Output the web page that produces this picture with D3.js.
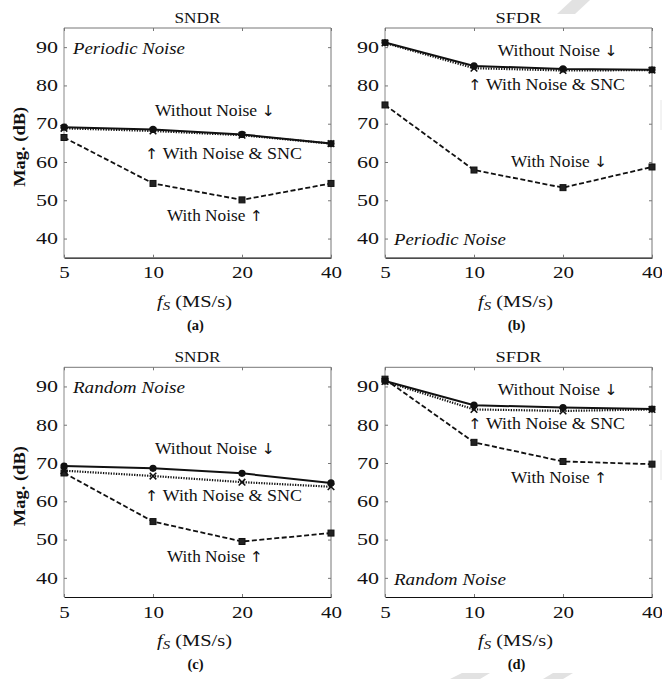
<!DOCTYPE html>
<html><head><meta charset="utf-8">
<script src="https://cdn.jsdelivr.net/npm/d3@7"></script>
<style>body{margin:0;background:#fff;} svg{display:block;}</style>
</head><body>
<svg id="c" width="662" height="679"></svg>
<script>
// ---------- data ----------
const fs = [5, 10, 20, 40];
const xTicks = [5, 10, 20, 40];
const yTicks = [40, 50, 60, 70, 80, 90];
const panelTitles = ["SNDR", "SFDR", "SNDR", "SFDR"];
const panelLetters = ["(a)", "(b)", "(c)", "(d)"];
const noiseTypes = ["Periodic Noise", "Periodic Noise", "Random Noise", "Random Noise"];

// (a) periodic SNDR
const aWithout = [69.1, 68.5, 67.2, 64.8];
const aSNC     = [68.8, 68.1, 67.0, 64.8];
const aNoise   = [66.4, 54.4, 50.1, 54.4];
// (b) periodic SFDR
const bWithout = [91.2, 85.1, 84.3, 84.1];
const bSNC     = [91.1, 84.5, 83.9, 84.0];
const bNoise   = [74.9, 57.9, 53.3, 58.7];
// (c) random SNDR
const cWithout = [69.2, 68.6, 67.3, 64.8];
const cSNC     = [68.0, 66.6, 65.0, 63.8];
const cNoise   = [67.4, 54.7, 49.5, 51.7];
// (d) random SFDR
const dWithout = [91.4, 85.1, 84.5, 84.1];
const dSNC     = [91.3, 84.0, 83.6, 84.0];
const dNoise   = [91.9, 75.4, 70.4, 69.7];

// annotation labels: [before-arrow text, arrow ("up"/"down"), after-arrow text, fs pos, dB pos, width]
const aLabels = [["Without Noise ", "down", "", 16.2, 73.6, 120], ["", "up", " With Noise & SNC", 17.3, 62.4, 157], ["With Noise ", "up", "", 16.2, 46.0, 96]];
const bLabels = [["Without Noise ", "down", "", 19.2, 89.3, 120], ["", "up", " With Noise & SNC", 17.6, 80.4, 157], ["With Noise ", "down", "", 19.4, 60.3, 96]];
const cLabels = [["Without Noise ", "down", "", 16.2, 73.9, 120], ["", "up", " With Noise & SNC", 17.3, 61.6, 157], ["With Noise ", "up", "", 16.2, 45.6, 96]];
const dLabels = [["Without Noise ", "down", "", 19.2, 89.3, 120], ["", "up", " With Noise & SNC", 17.6, 80.4, 157], ["With Noise ", "up", "", 19.4, 66.3, 96]];
// noise-type label position [fs, dB]
const noiseLabelPos = [[5.36, 89.8], [5.36, 39.7], [5.36, 89.8], [5.36, 39.6]];

const panels = [
  {without: aWithout, snc: aSNC, noise: aNoise, labels: aLabels},
  {without: bWithout, snc: bSNC, noise: bNoise, labels: bLabels},
  {without: cWithout, snc: cSNC, noise: cNoise, labels: cLabels},
  {without: dWithout, snc: dSNC, noise: dNoise, labels: dLabels}
];

// ---------- layout ----------
const svg = d3.select("#c");
const FONT = "'Liberation Serif', 'Times New Roman', serif";
const ARROW_FONT = "'DejaVu Sans', 'DejaVu Serif', sans-serif";
const ARROWS = {up: "\u2191\uFE0E", down: "\u2193\uFE0E"};
const origins = [[64, 28], [385, 28], [64, 367.3], [385, 367.3]];
const W = 267, H = 229.7;

// faint watermark-like decorations
const deco = svg.append("g").attr("fill", "#e2e2e2");
deco.append("path").attr("d", "M572,0 L590,0 L575,14 L557,14 Z");
deco.append("path").attr("d", "M450,679 L462,673 L490,673 L480,679 Z");
deco.append("path").attr("d", "M543,679 L553,673 L573,673 L563,679 Z");
svg.append("line").attr("x1", 661).attr("x2", 661).attr("y1", 100).attr("y2", 130).attr("stroke", "#e6e6e6");
svg.append("line").attr("x1", 661).attr("x2", 661).attr("y1", 450).attr("y2", 480).attr("stroke", "#e6e6e6");

panels.forEach((p, i) => {
  const [ox, oy] = origins[i];
  const g = svg.append("g").attr("transform", `translate(${ox},${oy})`);
  const x = d3.scaleLog().base(2).domain([5, 40]).range([0, W]);
  const y = d3.scaleLinear().domain([35, 95]).range([H, 0]);

  // box frame
  g.append("line").attr("x1", 0).attr("x2", W).attr("y1", 0).attr("y2", 0).attr("stroke", "#777");
  g.append("line").attr("x1", 0).attr("x2", 0).attr("y1", 0).attr("y2", H).attr("stroke", "#888");
  g.append("line").attr("x1", W).attr("x2", W).attr("y1", 0).attr("y2", H).attr("stroke", "#777");

  // axes (ticks inward)
  const xa = g.append("g").attr("transform", `translate(0,${H})`)
    .call(d3.axisBottom(x).tickValues(xTicks).tickFormat(d3.format("d")).tickSizeInner(-3).tickSizeOuter(0).tickPadding(9));
  xa.select(".domain").attr("stroke", "#111").attr("stroke-width", 1.2);
  xa.selectAll(".tick line").attr("stroke", "#777");
  xa.selectAll("text").attr("font-family", FONT).attr("font-size", 16.5).attr("fill", "#111")
    .attr("textLength", d => String(d).length * 10.5).attr("lengthAdjust", "spacingAndGlyphs");
  g.append("g").call(d3.axisTop(x).tickValues(xTicks).tickFormat("").tickSizeInner(-3).tickSizeOuter(0))
    .call(s => { s.select(".domain").remove(); s.selectAll("line").attr("stroke", "#777"); });

  const ya = g.append("g")
    .call(d3.axisLeft(y).tickValues(yTicks).tickSizeInner(-3).tickSizeOuter(0).tickPadding(6));
  ya.select(".domain").remove();
  ya.selectAll(".tick line").attr("stroke", "#777");
  ya.selectAll("text").attr("font-family", FONT).attr("font-size", 16.5).attr("fill", "#111")
    .attr("textLength", 22).attr("lengthAdjust", "spacingAndGlyphs");
  g.append("g").attr("transform", `translate(${W},0)`)
    .call(d3.axisRight(y).tickValues(yTicks).tickFormat("").tickSizeInner(-3).tickSizeOuter(0))
    .call(s => { s.select(".domain").remove(); s.selectAll("line").attr("stroke", "#777"); });

  // title
  g.append("text").attr("x", W / 2).attr("y", -5).attr("text-anchor", "middle")
    .attr("font-family", FONT).attr("font-size", 15).attr("fill", "#111")
    .attr("textLength", 46).attr("lengthAdjust", "spacingAndGlyphs").text(panelTitles[i]);

  // x label
  const xl = g.append("text").attr("x", W / 2 - 3).attr("y", H + 49).attr("text-anchor", "middle")
    .attr("font-family", FONT).attr("font-size", 16.5).attr("fill", "#111")
    .attr("textLength", 75).attr("lengthAdjust", "spacingAndGlyphs");
  xl.append("tspan").attr("font-style", "italic").text("f");
  xl.append("tspan").attr("font-style", "italic").attr("font-size", 12).attr("dy", 3).text("S");
  xl.append("tspan").attr("dy", -3).text(" (MS/s)");

  // panel letter
  g.append("text").attr("x", W / 2 - 2).attr("y", H + 72).attr("text-anchor", "middle")
    .attr("font-family", FONT).attr("font-weight", "bold").attr("font-size", 14.5).attr("fill", "#111")
    .text(panelLetters[i]);

  // y label (left column only)
  if (i % 2 === 0) {
    g.append("text").attr("transform", `translate(-39,${H / 2 + 4}) rotate(-90)`)
      .attr("text-anchor", "middle").attr("font-family", FONT).attr("font-weight", "bold")
      .attr("font-size", 16).attr("fill", "#111")
      .attr("textLength", 80).attr("lengthAdjust", "spacingAndGlyphs").text("Mag. (dB)");
  }

  const line = d3.line().x((d, k) => x(fs[k])).y(d => y(d));

  // With Noise (dashed, squares)
  g.append("path").datum(p.noise).attr("d", line).attr("fill", "none")
    .attr("stroke", "#111").attr("stroke-width", 1.8).attr("stroke-dasharray", "5,2.5");
  g.selectAll(".sq").data(p.noise).enter().append("rect")
    .attr("x", (d, k) => x(fs[k]) - 3).attr("y", d => y(d) - 3)
    .attr("width", 6).attr("height", 6).attr("fill", "#222").attr("stroke", "#111").attr("stroke-width", 1);

  // With Noise & SNC (dotted, x markers)
  g.append("path").datum(p.snc).attr("d", line).attr("fill", "none")
    .attr("stroke", "#111").attr("stroke-width", 2.2).attr("stroke-dasharray", "1.3,1.3");
  g.selectAll(".xm").data(p.snc).enter().append("path")
    .attr("transform", (d, k) => `translate(${x(fs[k])},${y(d)})`)
    .attr("d", d3.symbol(d3.symbolX, 30)).attr("stroke", "#111").attr("stroke-width", 1.6).attr("fill", "none");

  // Without Noise (solid, filled circles)
  g.append("path").datum(p.without).attr("d", line).attr("fill", "none")
    .attr("stroke", "#111").attr("stroke-width", 2);
  g.selectAll(".ci").data(p.without).enter().append("circle")
    .attr("cx", (d, k) => x(fs[k])).attr("cy", d => y(d)).attr("r", 3.6).attr("fill", "#111");

  // annotations
  p.labels.forEach(l => {
    const t = g.append("text").attr("x", x(l[3])).attr("y", y(l[4])).attr("dy", "0.35em")
      .attr("text-anchor", "middle").attr("font-family", FONT).attr("font-size", 16.5)
      .attr("textLength", l[5]).attr("lengthAdjust", "spacingAndGlyphs")
      .attr("fill", "#111");
    if (l[0]) t.append("tspan").text(l[0]);
    t.append("tspan").attr("font-family", ARROW_FONT).attr("font-size", 15).attr("fill", "#111").text(ARROWS[l[1]]);
    if (l[2]) t.append("tspan").text(l[2]);
  });
  g.append("text").attr("x", x(noiseLabelPos[i][0])).attr("y", y(noiseLabelPos[i][1])).attr("dy", "0.35em")
    .attr("font-family", FONT).attr("font-style", "italic").attr("font-size", 16.5)
    .attr("textLength", 112).attr("lengthAdjust", "spacingAndGlyphs")
    .attr("fill", "#111").text(noiseTypes[i]);
});
</script>
</body></html>
